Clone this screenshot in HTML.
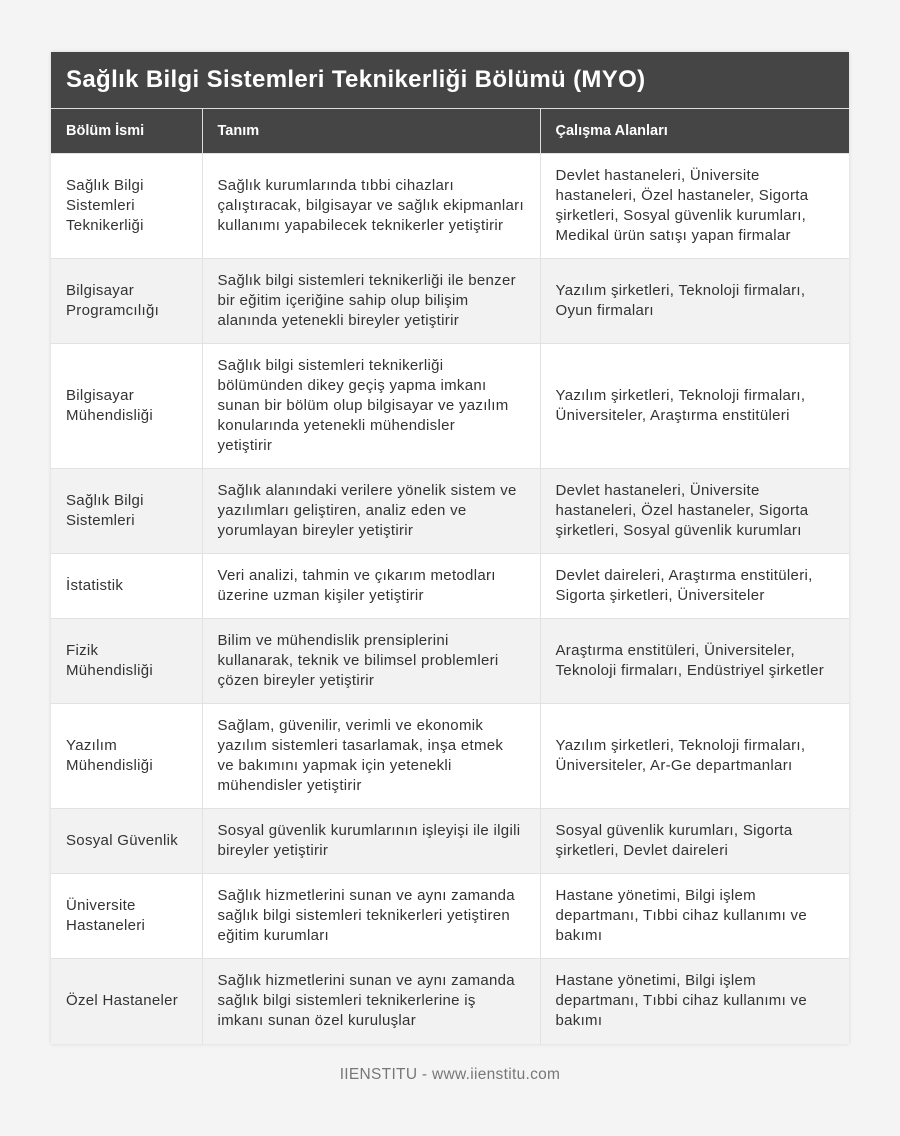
<!DOCTYPE html>
<html><head><meta charset="utf-8"><style>
body{margin:0;background:#f4f4f4;width:900px;height:1136px;font-family:"Liberation Sans","DejaVu Sans",sans-serif;position:relative}
.wrap{position:absolute;left:51px;top:52px;width:798px;background:#fff;box-shadow:0 0 4px rgba(0,0,0,.12)}
.title{height:56px;background:#454545;color:#fff;font-weight:bold;font-size:24px;letter-spacing:0.35px;line-height:56px;padding-left:15px;box-sizing:border-box}
table{border-collapse:collapse;width:798px;table-layout:fixed}
th{background:#454545;color:#fff;font-size:14.5px;font-weight:bold;text-align:left;height:44px;padding:0 15px;border-left:1px solid #ddd;border-top:1px solid #ddd}
th:first-child,td:first-child{border-left:none}
td{font-size:15px;letter-spacing:0.3px;line-height:20px;color:#333;padding:0 15px;border-left:1px solid #e2e2e2;border-top:1px solid #e2e2e2;vertical-align:middle}
tr:nth-child(odd) td{background:#f2f2f2}
.foot{position:absolute;top:1066px;width:900px;text-align:center;color:#777;font-size:15.5px;letter-spacing:0.3px}
</style></head><body>
<div class="wrap">
<div class="title">Sağlık Bilgi Sistemleri Teknikerliği Bölümü (MYO)</div>
<table>
<colgroup><col style="width:151px"><col style="width:338px"><col style="width:309px"></colgroup>
<tr><th>Bölüm İsmi</th><th>Tanım</th><th>Çalışma Alanları</th></tr>
<tr style="height:105px"><td>Sağlık Bilgi Sistemleri Teknikerliği</td><td>Sağlık kurumlarında tıbbi cihazları çalıştıracak, bilgisayar ve sağlık ekipmanları kullanımı yapabilecek teknikerler yetiştirir</td><td>Devlet hastaneleri, Üniversite hastaneleri, Özel hastaneler, Sigorta şirketleri, Sosyal güvenlik kurumları, Medikal ürün satışı yapan firmalar</td></tr>
<tr style="height:85px"><td>Bilgisayar Programcılığı</td><td>Sağlık bilgi sistemleri teknikerliği ile benzer bir eğitim içeriğine sahip olup bilişim alanında yetenekli bireyler yetiştirir</td><td>Yazılım şirketleri, Teknoloji firmaları, Oyun firmaları</td></tr>
<tr style="height:125px"><td>Bilgisayar Mühendisliği</td><td>Sağlık bilgi sistemleri teknikerliği<br>bölümünden dikey geçiş yapma imkanı<br>sunan bir bölüm olup bilgisayar ve yazılım<br>konularında yetenekli mühendisler<br>yetiştirir</td><td>Yazılım şirketleri, Teknoloji firmaları, Üniversiteler, Araştırma enstitüleri</td></tr>
<tr style="height:85px"><td>Sağlık Bilgi Sistemleri</td><td>Sağlık alanındaki verilere yönelik sistem ve yazılımları geliştiren, analiz eden ve yorumlayan bireyler yetiştirir</td><td>Devlet hastaneleri, Üniversite hastaneleri, Özel hastaneler, Sigorta şirketleri, Sosyal güvenlik kurumları</td></tr>
<tr style="height:65px"><td>İstatistik</td><td>Veri analizi, tahmin ve çıkarım metodları üzerine uzman kişiler yetiştirir</td><td>Devlet daireleri, Araştırma enstitüleri, Sigorta şirketleri, Üniversiteler</td></tr>
<tr style="height:85px"><td>Fizik Mühendisliği</td><td>Bilim ve mühendislik prensiplerini kullanarak, teknik ve bilimsel problemleri çözen bireyler yetiştirir</td><td>Araştırma enstitüleri, Üniversiteler, Teknoloji firmaları, Endüstriyel şirketler</td></tr>
<tr style="height:105px"><td>Yazılım Mühendisliği</td><td>Sağlam, güvenilir, verimli ve ekonomik<br>yazılım sistemleri tasarlamak, inşa etmek<br>ve bakımını yapmak için yetenekli<br>mühendisler yetiştirir</td><td>Yazılım şirketleri, Teknoloji firmaları, Üniversiteler, Ar-Ge departmanları</td></tr>
<tr style="height:65px"><td>Sosyal Güvenlik</td><td>Sosyal güvenlik kurumlarının işleyişi ile ilgili bireyler yetiştirir</td><td>Sosyal güvenlik kurumları, Sigorta şirketleri, Devlet daireleri</td></tr>
<tr style="height:85px"><td>Üniversite Hastaneleri</td><td>Sağlık hizmetlerini sunan ve aynı zamanda sağlık bilgi sistemleri teknikerleri yetiştiren eğitim kurumları</td><td>Hastane yönetimi, Bilgi işlem departmanı, Tıbbi cihaz kullanımı ve bakımı</td></tr>
<tr style="height:85px"><td>Özel Hastaneler</td><td>Sağlık hizmetlerini sunan ve aynı zamanda sağlık bilgi sistemleri teknikerlerine iş imkanı sunan özel kuruluşlar</td><td>Hastane yönetimi, Bilgi işlem departmanı, Tıbbi cihaz kullanımı ve bakımı</td></tr>
</table>
</div>
<div class="foot">IIENSTITU - www.iienstitu.com</div>
</body></html>
